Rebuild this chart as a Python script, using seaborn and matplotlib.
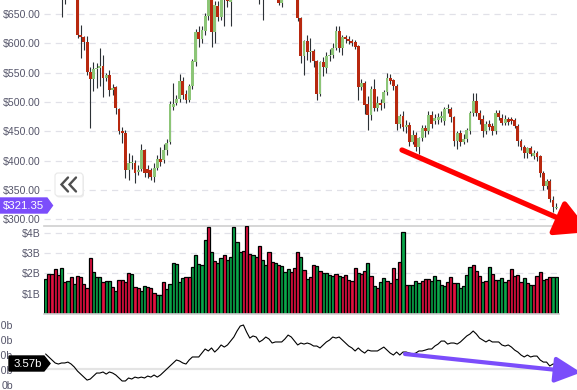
import numpy as np
import pandas as pd
import matplotlib
matplotlib.use("Agg")
from matplotlib import pyplot as plt
from matplotlib.patches import FancyArrowPatch, Polygon, FancyBboxPatch
from matplotlib.lines import Line2D
import seaborn as sns

# Candles ($). Many early/middle candles sit above the visible top.
opens = [705, 712, 700, 695, 688, 680, 690, 684, 692, 686,
         690, 614, 611, 602, 551, 539, 556, 558, 561, 541,
         546, 520, 525, 488, 451, 447, 384, 396, 396, 380,
         386, 418, 386, 384, 372, 387, 403, 401, 418, 432,
         492, 499, 505, 536, 514, 503, 527, 568, 619, 607,
         621, 647, 680, 619, 664, 645, 688, 678, 670, 680,
         692, 705, 712, 703, 690, 686, 695, 688, 682, 690,
         698, 690, 683, 688, 669, 680, 688, 694, 687, 680,
         643, 578, 604, 585, 587, 570, 514, 568, 558, 578,
         580, 592, 621, 592, 611, 607, 604, 602, 595, 526,
         532, 497, 478, 522, 490, 498, 498, 517, 541, 537,
         527, 462, 476, 457, 461, 432, 444, 423, 438, 455,
         450, 478, 468, 470, 472, 468, 488, 488, 474, 433,
         447, 432, 437, 450, 481, 502, 481, 471, 450, 462,
         459, 450, 481, 473, 464, 471, 471, 470, 459, 433,
         423, 413, 421, 408, 413, 408, 379, 357, 365, 333,
         319]
closes = [712, 700, 695, 688, 680, 690, 684, 692, 686, 694,
          614, 611, 602, 551, 539, 556, 558, 561, 541, 546,
          520, 524, 489, 451, 447, 384, 396, 397, 379, 384,
          418, 379, 379, 372, 387, 403, 398, 418, 430, 497,
          497, 505, 536, 512, 503, 527, 570, 619, 607, 623,
          647, 680, 619, 665, 645, 676, 678, 673, 680, 692,
          705, 712, 703, 690, 686, 695, 688, 682, 690, 698,
          690, 683, 688, 669, 680, 688, 694, 687, 680, 643,
          578, 604, 585, 587, 570, 514, 568, 560, 578, 581,
          592, 621, 592, 611, 607, 604, 600, 594, 526, 532,
          495, 478, 522, 490, 498, 494, 517, 541, 536, 527,
          462, 476, 457, 461, 432, 444, 423, 438, 455, 450,
          478, 462, 473, 474, 476, 488, 489, 474, 433, 447,
          432, 437, 452, 481, 502, 481, 469, 450, 462, 457,
          450, 481, 474, 464, 471, 466, 467, 459, 433, 423,
          413, 421, 412, 413, 406, 379, 357, 365, 334, 321,
          321.35]
highs = [720, 716, 706, 700, 692, 695, 694, 698, 700, 700,
         694, 631, 612, 612, 560, 568, 566, 592, 580, 550,
         555, 530, 528, 490, 458, 452, 413, 410, 401, 392,
         428, 420, 392, 388, 396, 410, 424, 428, 436, 502,
         532, 512, 548, 542, 520, 530, 574, 624, 630, 630,
         652, 690, 688, 672, 672, 684, 692, 684, 686, 698,
         712, 720, 718, 715, 697, 700, 700, 694, 698, 705,
         704, 695, 693, 692, 684, 694, 700, 699, 690, 684,
         645, 606, 614, 610, 590, 572, 570, 577, 585, 590,
         600, 630, 630, 615, 614, 612, 608, 605, 598, 540,
         536, 510, 527, 540, 510, 505, 520, 550, 548, 540,
         530, 480, 484, 470, 465, 452, 449, 440, 460, 461,
         484, 485, 480, 482, 484, 492, 496, 492, 476, 450,
         452, 445, 456, 484, 515, 516, 486, 478, 468, 470,
         464, 487, 486, 480, 478, 475, 474, 473, 462, 436,
         426, 424, 425, 418, 416, 410, 382, 368, 368, 340,
         327]
lows = [698, 695, 690, 682, 676, 645, 667, 676, 680, 682,
        610, 575, 589, 546, 456, 519, 524, 527, 508, 535,
        510, 512, 480, 445, 430, 370, 367, 385, 362, 375,
        382, 372, 370, 367, 364, 384, 390, 396, 410, 428,
        486, 494, 500, 505, 498, 500, 522, 562, 594, 600,
        615, 640, 594, 600, 638, 640, 630, 662, 630, 675,
        688, 700, 696, 684, 678, 680, 680, 667, 640, 684,
        684, 677, 678, 665, 662, 676, 684, 680, 676, 638,
        566, 546, 572, 569, 560, 504, 510, 545, 550, 570,
        575, 588, 586, 580, 600, 599, 596, 590, 503, 520,
        480, 452, 470, 485, 484, 487, 490, 512, 530, 520,
        452, 455, 450, 447, 425, 428, 417, 411, 434, 440,
        446, 455, 462, 462, 465, 460, 482, 465, 425, 420,
        425, 428, 432, 446, 476, 476, 462, 440, 445, 452,
        444, 445, 470, 460, 460, 461, 462, 455, 425, 418,
        404, 405, 408, 403, 400, 372, 350, 352, 330, 312,
        317]

# Volume ($B) and bar colour as drawn (G = up, R = down)
volumes = [1.72, 1.97, 1.97, 2.20, 1.94, 2.26, 1.58, 1.60, 1.82, 1.48,
           1.85, 1.80, 1.48, 1.30, 2.75, 2.07, 1.83, 1.80, 1.58, 1.60,
           1.60, 1.32, 1.15, 1.65, 1.65, 1.58, 2.00, 1.95, 1.35, 1.30,
           1.13, 1.40, 1.32, 1.27, 1.03, 0.95, 0.95, 1.55, 1.25, 1.50,
           2.50, 2.45, 1.58, 1.75, 1.82, 1.82, 2.30, 2.90, 2.46, 2.40,
           3.64, 4.28, 3.05, 2.60, 2.50, 2.75, 2.90, 2.68, 2.80, 4.28,
           3.55, 3.05, 3.10, 4.33, 2.95, 2.90, 2.80, 3.35, 2.68, 2.40,
           3.05, 2.55, 2.50, 2.40, 2.35, 2.07, 2.20, 2.07, 2.26, 3.05,
           2.80, 2.15, 1.72, 1.82, 2.40, 2.35, 2.10, 2.00, 2.00, 1.90,
           1.85, 1.95, 1.85, 1.80, 1.90, 1.67, 1.60, 2.26, 2.00, 1.95,
           2.10, 2.50, 1.85, 1.37, 1.30, 1.58, 1.77, 1.60, 1.52, 2.26,
           1.72, 2.56, 4.04, 1.43, 1.43, 1.43, 1.63, 1.52, 1.63, 1.72,
           1.72, 1.60, 1.87, 1.67, 1.43, 1.37, 1.58, 1.82, 1.52, 1.52,
           1.28, 1.37, 1.92, 2.30, 2.41, 2.10, 1.87, 1.58, 1.63, 2.30,
           1.95, 1.67, 1.67, 1.77, 1.58, 1.67, 2.20, 1.87, 1.93, 1.58,
           1.77, 1.52, 1.43, 1.43, 1.87, 2.07, 1.67, 1.72, 1.82, 1.82,
           1.82]
vol_dirs = list("GRRRRGRGRGRRRRRGGGRGGRGRRRRGRRGGRRRGGRGGGGGGRRGG"
                "GGGRGRGGRGGGGGRRRGRRGGRRGRGGGRRRGRGRRGRGGGGRGRRRRRGRRGRGR"
                "GGRRRGRGRGGGGRRRGGGGGRRRGGGGGRRRGRGRRGGGRRRRRGRGRRRGRRGG")

# On-balance volume (b)
obv = [2.07, 1.87, 1.67, 1.47, 1.40, 1.47, 1.47, 1.53, 1.40, 1.20,
       0.93, 0.73, 0.53, 0.33, 0.40, 0.60, 0.80, 0.80, 0.87, 0.73,
       0.87, 0.80, 0.67, 0.47, 0.27, 0.27, 0.47, 0.40, 0.53, 0.47,
       0.53, 0.47, 0.60, 0.53, 0.67, 0.53, 0.67, 0.87, 1.07, 1.27,
       1.47, 1.67, 1.60, 1.47, 1.40, 1.67, 1.87, 1.87, 1.87, 2.13,
       2.40, 2.27, 2.47, 2.20, 2.40, 2.67, 2.53, 2.67, 2.93, 3.20,
       3.60, 3.93, 4.00, 3.53, 3.13, 3.27, 3.20, 2.87, 3.00, 3.20,
       3.07, 2.80, 2.87, 2.87, 2.87, 3.07, 3.33, 3.20, 2.93, 2.67,
       2.80, 2.73, 2.80, 2.73, 2.60, 2.60, 2.47, 2.67, 2.87, 3.00,
       3.20, 3.13, 3.20, 3.00, 2.80, 2.60, 2.47, 2.27, 2.47, 2.27,
       2.13, 2.33, 2.27, 2.27, 2.27, 2.40, 2.53, 2.33, 2.13, 2.00,
       2.20, 2.00, 2.20, 2.20, 2.13, 2.07, 2.13, 2.27, 2.27, 2.33,
       2.40, 2.40, 2.60, 2.73, 2.93, 2.93, 2.73, 2.80, 2.80, 2.73,
       2.87, 3.07, 3.27, 3.40, 3.60, 3.40, 3.13, 3.00, 2.87, 3.00,
       2.87, 2.87, 2.87, 2.67, 2.60, 2.67, 2.53, 2.33, 2.20, 2.00,
       1.87, 2.00, 1.87, 1.93, 1.93, 1.67, 1.53, 1.53, 1.27, 1.40,
       1.40]

price_ticks = [300, 350, 400, 450, 500, 550, 600, 650]
price_labels = ["$300.00", "$350.00", "$400.00", "$450.00", "$500.00", "$550.00", "$600.00", "$650.00"]
vol_ticks = [1, 2, 3, 4]
vol_labels = ["$1B", "$2B", "$3B", "$4B"]
obv_ticks = [0, 1, 2, 3, 4]
obv_labels = ["0b", "1.0b", "2.00b", "3.0b", "4.0b"]
last_price = "$321.35"
last_obv = "3.57b"

sns.set_theme(style="white")
plt.rcParams["font.family"] = ["Liberation Sans", "DejaVu Sans"]

df = pd.DataFrame({"open": opens, "close": closes, "high": highs, "low": lows,
                   "volume": volumes, "dir": vol_dirs, "obv": obv})
df["idx"] = np.arange(len(df))
up = df["close"] >= df["open"]
body_bottom = df[["open", "close"]].min(axis=1)
body_height = (df["close"] - df["open"]).abs().clip(lower=1.8)

W, H = 577, 390
fig = plt.figure(figsize=(W / 100, H / 100), dpi=100)
left, right = 44 / W, 515 / W
ax_p = fig.add_axes([left, 1 - 226 / H, right, 226 / H])
ax_v = fig.add_axes([left, 1 - 314 / H, right, 88 / H])
ax_o = fig.add_axes([left, 0, right, 74 / H])

grid_kw = dict(color="#e1e1e8", linestyle=(0, (5, 4)), linewidth=0.9)
label_color = "#55556a"

# price candles: wick first, then body on top
ax_p.vlines(df["idx"], df["low"], df["high"], color="#2c3136", linewidth=0.8, zorder=2)
ax_p.bar(df["idx"], body_height, bottom=body_bottom, width=0.9,
         color=np.where(up, "#8cc577", "#b8280f"), edgecolor="none", linewidth=0, zorder=3)
ax_p.set_ylim(288.4, 674)
ax_p.set_yticks(price_ticks, price_labels)
ax_p.yaxis.grid(True, **grid_kw)
ax_p.set_axisbelow(True)

# volume
sns.barplot(x=df["idx"], y=df["volume"], hue=df["dir"], palette={"G": "#0aa64a", "R": "#e2103f"},
            native_scale=True, width=1.0, dodge=False, saturation=1, edgecolor="black", linewidth=0.9,
            legend=False, errorbar=None, ax=ax_v)
ax_v.set_ylim(0, 4.33)
ax_v.set_yticks(vol_ticks, vol_labels)
ax_v.yaxis.grid(True, **grid_kw)
ax_v.set_axisbelow(True)

# on-balance volume
sns.lineplot(x=df["idx"], y=df["obv"], color="black", linewidth=0.8, ax=ax_o)
ax_o.axhline(1.07, color="#e4e4e4", linewidth=1.6, zorder=0)
ax_o.set_ylim(-0.33, 4.6)
ax_o.set_yticks(obv_ticks, obv_labels)

for ax in (ax_p, ax_v, ax_o):
    ax.set_xlim(-0.5, 160.9)
    ax.set_xticks([])
    ax.set_xlabel("")
    ax.set_ylabel("")
    for s in ("top", "right", "left"):
        ax.spines[s].set_visible(False)
    ax.spines["bottom"].set_color("#cfcfcf")
    ax.spines["bottom"].set_linewidth(1.2)
    ax.patch.set_alpha(0)
ax_o.spines["bottom"].set_visible(False)
ax_p.tick_params(axis="y", length=0, pad=2.2, labelsize=7.6, labelcolor=label_color)
ax_v.tick_params(axis="y", length=0, pad=2.2, labelsize=7.6, labelcolor=label_color)
ax_o.tick_params(axis="y", length=3, direction="inout", color="#d8d8d8", pad=21,
                 labelsize=7.6, labelcolor=label_color)

# overlay in pixel space for the drawn annotations
ov = fig.add_axes([0, 0, 1, 1])
ov.set_xlim(0, W)
ov.set_ylim(H, 0)
ov.axis("off")

ov.add_patch(FancyArrowPatch((402, 150), (590, 232), arrowstyle="-|>,head_length=1.3,head_width=0.7",
                             mutation_scale=16, color="#ff0000", lw=3.8, shrinkA=0, shrinkB=0))
ov.add_patch(FancyArrowPatch((405, 354), (581, 372.5), arrowstyle="-|>,head_length=1.2,head_width=0.6",
                             mutation_scale=13, color="#7b4dfb", lw=3.0, shrinkA=0, shrinkB=0))

ov.add_patch(Polygon([(0, 198), (47, 198), (52.5, 205.5), (47, 213), (0, 213)],
                     closed=True, color="#7b4dfb"))
ov.text(23.5, 206, last_price, color="white", fontsize=8.2, ha="center", va="center")

ov.add_patch(Polygon([(9, 356), (44, 356), (50, 363.5), (44, 371), (9, 371)],
                     closed=True, color="black"))
ov.text(28, 363.8, last_obv, color="white", fontsize=8.2, ha="center", va="center")

ov.add_patch(FancyBboxPatch((56, 174.5), 28, 23, boxstyle="round,pad=0,rounding_size=3",
                            fc="#ededed", ec="none"))
ov.add_patch(FancyBboxPatch((55, 173), 28, 23, boxstyle="round,pad=0,rounding_size=3",
                            fc="white", ec="#e8e8e8", lw=0.8))
for cx in (61.5, 69.5):
    ov.add_line(Line2D([cx + 6.5, cx, cx + 6.5], [177.5, 184.5, 191.5], color="#4f4f4f",
                       lw=1.7, solid_joinstyle="miter"))

fig.savefig("out.png", dpi=100)
